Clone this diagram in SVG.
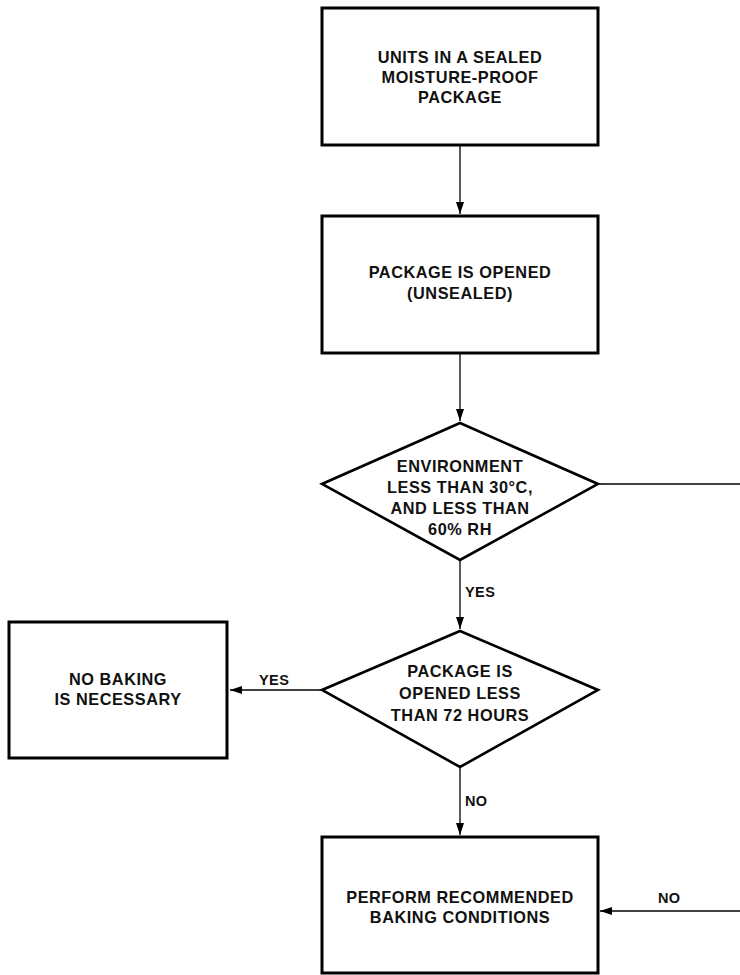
<svg xmlns="http://www.w3.org/2000/svg" width="740" height="975" viewBox="0 0 740 975">
<style>
.box{fill:#fff;stroke:#000;stroke-width:3}
.dia{fill:#fff;stroke:#000;stroke-width:2.6;stroke-linejoin:miter}
.t{font-family:"Liberation Sans",Arial,sans-serif;font-weight:bold;font-size:16.3px;letter-spacing:0.55px;text-anchor:middle;fill:#111}
.l{font-family:"Liberation Sans",Arial,sans-serif;font-weight:bold;font-size:14.5px;letter-spacing:0.4px;fill:#111}
.c{fill:none;stroke:#000;stroke-width:1.3}
</style>
<defs>
<marker id="ah" markerWidth="12" markerHeight="8" refX="12" refY="4" orient="auto" markerUnits="userSpaceOnUse">
<path d="M0,0 L12,4 L0,8 Z" fill="#000"/>
</marker>
</defs>
<rect width="740" height="975" fill="#fff"/>
<g id="connectors">
<line class="c" x1="460" y1="146" x2="460" y2="214" marker-end="url(#ah)"/>
<line class="c" x1="460" y1="354" x2="460" y2="421" marker-end="url(#ah)"/>
<line class="c" x1="460" y1="560" x2="460" y2="629" marker-end="url(#ah)"/>
<line class="c" x1="598" y1="484" x2="740" y2="484"/>
<line class="c" x1="322" y1="690" x2="230" y2="690" marker-end="url(#ah)"/>
<line class="c" x1="460" y1="767" x2="460" y2="835" marker-end="url(#ah)"/>
<line class="c" x1="740" y1="911" x2="600" y2="911" marker-end="url(#ah)"/>
<text class="l" x="465" y="597">YES</text>
<text class="l" x="259" y="685">YES</text>
<text class="l" x="465" y="806">NO</text>
<text class="l" x="658" y="903">NO</text>
</g>
<g id="n1">
<rect class="box" x="322" y="8" width="276" height="137"/>
<text class="t" x="460" y="63">UNITS IN A SEALED</text>
<text class="t" x="460" y="83">MOISTURE-PROOF</text>
<text class="t" x="460" y="103">PACKAGE</text>
</g>
<g id="n2">
<rect class="box" x="322" y="216" width="276" height="137"/>
<text class="t" x="460" y="278">PACKAGE IS OPENED</text>
<text class="t" x="460" y="299">(UNSEALED)</text>
</g>
<g id="d1">
<polygon class="dia" points="460,423 598,484 460,560 322,484"/>
<text class="t" x="460" y="472">ENVIRONMENT</text>
<text class="t" x="460" y="493">LESS THAN 30°C,</text>
<text class="t" x="460" y="514">AND LESS THAN</text>
<text class="t" x="460" y="535">60% RH</text>
</g>
<g id="d2">
<polygon class="dia" points="460,631 598,690 460,767 322,690"/>
<text class="t" x="460" y="677">PACKAGE IS</text>
<text class="t" x="460" y="699">OPENED LESS</text>
<text class="t" x="460" y="721">THAN 72 HOURS</text>
</g>
<g id="n3">
<rect class="box" x="9" y="622" width="218" height="136"/>
<text class="t" x="118" y="685">NO BAKING</text>
<text class="t" x="118" y="705">IS NECESSARY</text>
</g>
<g id="n4">
<rect class="box" x="322" y="837" width="276" height="136"/>
<text class="t" x="460" y="903">PERFORM RECOMMENDED</text>
<text class="t" x="460" y="923">BAKING CONDITIONS</text>
</g>
</svg>
